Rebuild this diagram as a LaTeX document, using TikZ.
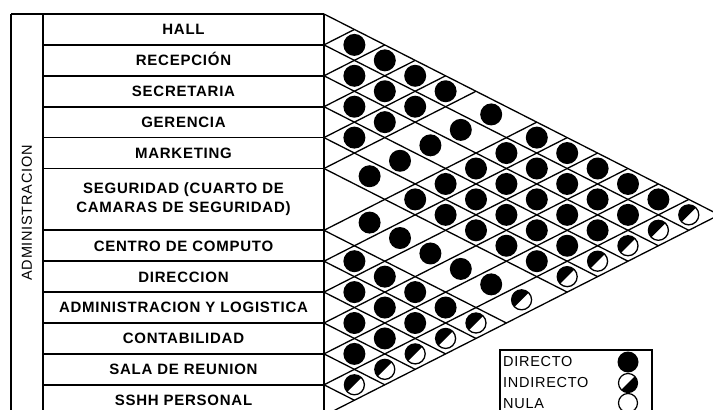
\documentclass[tikz,border=0pt]{standalone}
\usepackage{fontspec}
\setmainfont{Liberation Sans}[LetterSpace=5]
\begin{document}
\begin{tikzpicture}[x=1pt,y=-1pt,
  tbl/.style={line width=1.7pt},
  gridln/.style={line width=1.3pt},
  lbl/.style={font=\fontsize{15}{19}\selectfont\bfseries, align=center, inner sep=0pt},
  onel/.style={lbl, text height=10.7pt, text depth=0pt},
  dirdot/.style={circle, fill=black, minimum size=22pt, inner sep=0pt},
  inddot/.style={circle, draw=black, line width=1.3pt, fill=white, minimum size=20pt, inner sep=0pt,
    path picture={\fill[black] (path picture bounding box.south west) -- (path picture bounding box.north west) -- (path picture bounding box.north east) -- cycle;}},
  legind/.style={circle, draw=black, line width=1.2pt, fill=white, minimum size=19pt, inner sep=0pt,
    path picture={\fill[black] (path picture bounding box.south west) -- (path picture bounding box.south east) -- (path picture bounding box.north east) -- cycle;}},
  legdir/.style={circle, fill=black, minimum size=21pt, inner sep=0pt},
  legnul/.style={circle, draw=black, line width=1.2pt, fill=white, minimum size=19pt, inner sep=0pt},
  legtxt/.style={font=\fontsize{14.5}{16}\selectfont, anchor=west, inner sep=0pt, text height=10.5pt, text depth=0pt}
]
\useasboundingbox (0,0) rectangle (713,410);
\def\xo{324}\def\tp{14}\def\uu{30.9}\def\hh{30.4}
% table frame
\draw[tbl] (11,14) -- (324,14);
\draw[tbl] (11,14) -- (11,425);
\draw[tbl] (43,14) -- (43,425);
\draw[tbl] (324,14) -- (324,425);
\foreach \b in {1,2,3,4,5,7,8,9,10,11,12}
  \draw[tbl] (43,{\tp+\uu*\b}) -- (324,{\tp+\uu*\b});
% grid coordinates
\foreach \b in {0,1,2,3,4,5,7,8,9,10,11,12,13}{
  \coordinate (L\b) at (\xo,{\tp+\uu*\b});
  \coordinate (D\b) at ({\xo+\hh*(13-\b)},{\tp+\uu*(\b+13)/2});
  \coordinate (U\b) at ({\xo+\hh*\b},{\tp+\uu*\b/2});
}
\foreach \b in {0,1,2,3,4,5,7,8,9,10,11,12}
  \draw[gridln] (L\b) -- (D\b);
\foreach \b in {1,2,3,4,5,7,8,9,10,11,12,13}
  \draw[gridln] (L\b) -- (U\b);
% labels
\node[onel] (r1) at (183.5,{\tp+\uu*0.5}) {HALL};
\node[onel] (r2) at (183.5,{\tp+\uu*1.5}) {RECEPCIÓN};
\node[onel] (r3) at (183.5,{\tp+\uu*2.5}) {SECRETARIA};
\node[onel] (r4) at (183.5,{\tp+\uu*3.5}) {GERENCIA};
\node[onel] (r5) at (183.5,{\tp+\uu*4.5}) {MARKETING};
\node[lbl] (r6) at (183.5,{\tp+\uu*6}) {SEGURIDAD (CUARTO DE\\CAMARAS DE SEGURIDAD)};
\node[onel] (r7) at (183.5,{\tp+\uu*7.5}) {CENTRO DE COMPUTO};
\node[onel] (r8) at (183.5,{\tp+\uu*8.5}) {DIRECCION};
\node[onel] (r9) at (183.5,{\tp+\uu*9.5}) {ADMINISTRACION Y LOGISTICA};
\node[onel] (r10) at (183.5,{\tp+\uu*10.5}) {CONTABILIDAD};
\node[onel] (r11) at (183.5,{\tp+\uu*11.5}) {SALA DE REUNION};
\node[onel] (r12) at (183.5,{\tp+\uu*12.5}) {SSHH PERSONAL};
\node[font=\fontsize{14.5}{16}\selectfont, rotate=90, inner sep=0pt] (grp) at (27,213) {ADMINISTRACION};
% dots
\foreach \i/\ci in {1/0.5,2/1.5,3/2.5,4/3.5,5/4.5,6/6,7/7.5,8/8.5,9/9.5,10/10.5,11/11.5}{
  \foreach \j/\cj in {2/1.5,3/2.5,4/3.5,5/4.5,6/6,7/7.5,8/8.5,9/9.5,10/10.5,11/11.5,12/12.5}{
    \ifnum\j>\i
      \ifnum\j=12
        \node[inddot] (d\i-\j) at ({\xo+\hh*(\cj-\ci)},{\tp+\uu*(\ci+\cj)/2}) {};
      \else
        \node[dirdot] (d\i-\j) at ({\xo+\hh*(\cj-\ci)},{\tp+\uu*(\ci+\cj)/2}) {};
      \fi
    \fi
  }
}
% legend
\draw[line width=1.1pt] (500,350) rectangle (652,425);
\node[legtxt] (t1) at (503,361.5) {DIRECTO};
\node[legtxt] (t2) at (503,382.5) {INDIRECTO};
\node[legtxt] (t3) at (503,403) {NULA};
\node[legdir] (s1) at (628,362) {};
\node[legind] (s2) at (628,383) {};
\node[legnul] (s3) at (628,403) {};
\end{tikzpicture}
\end{document}
